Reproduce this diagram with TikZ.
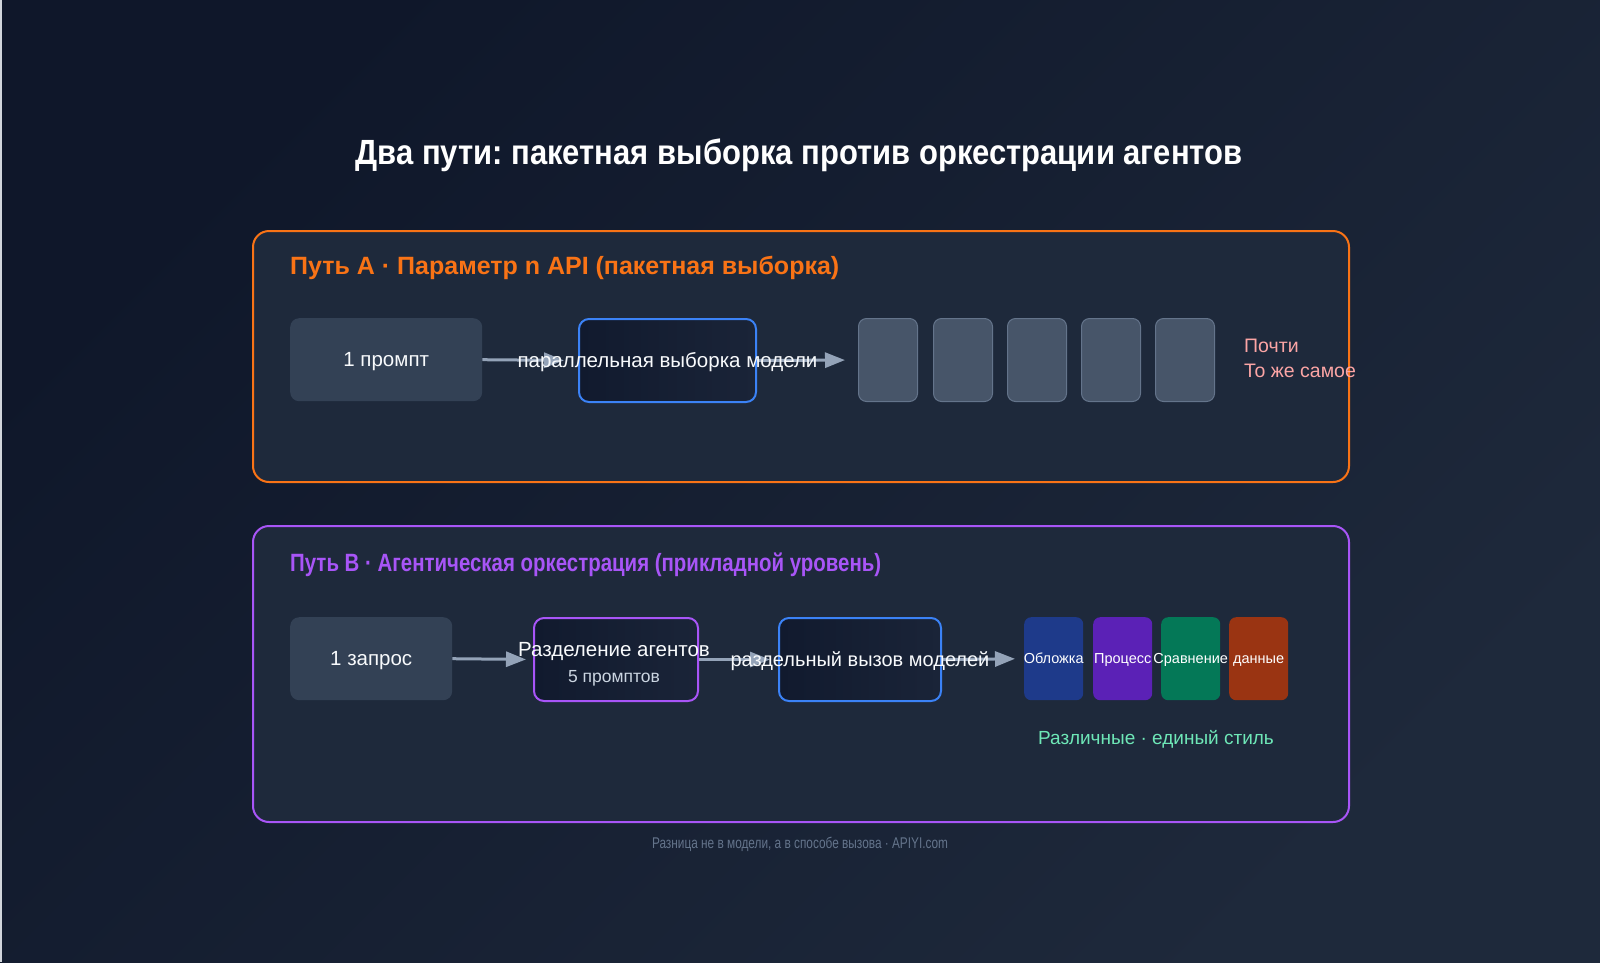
\documentclass[tikz,border=0pt]{standalone}
\usepackage{fontspec}
\setmainfont{Liberation Sans}
\usepackage{graphicx}
\usetikzlibrary{arrows.meta}
\frenchspacing
\definecolor{bgA}{HTML}{0F172A}
\definecolor{bgB}{HTML}{1E293B}
\definecolor{panelc}{HTML}{1E293B}
\definecolor{orng}{HTML}{F97316}
\definecolor{purp}{HTML}{A855F7}
\definecolor{blu}{HTML}{3B82F6}
\definecolor{slateS}{HTML}{334155}
\definecolor{slateX}{HTML}{475569}
\definecolor{slateF}{HTML}{64748B}
\definecolor{slateV}{HTML}{94A3B8}
\definecolor{slateT}{HTML}{CBD5E1}
\definecolor{txtw}{HTML}{F8FAFC}
\definecolor{pinkc}{HTML}{FCA5A5}
\definecolor{mintc}{HTML}{6EE7B7}
\definecolor{cdBlue}{HTML}{1E3A8A}
\definecolor{cdPurp}{HTML}{5B21B6}
\definecolor{cdGreen}{HTML}{047857}
\definecolor{cdRust}{HTML}{9A3412}
\definecolor{innerA}{HTML}{111A2E}
\definecolor{innerB}{HTML}{1A2438}
\definecolor{edgec}{HTML}{D1D5DB}
\newlength\fitlen
\newcommand\fitto[2]{\settowidth\fitlen{#2}\pgfmathsetmacro\fitr{#1/\fitlen}\scalebox{\fitr}[1]{#2}}
\tikzset{
  panelbox/.style={rectangle, rounded corners=16pt, fill=panelc, line width=2pt, inner sep=0pt, anchor=north west},
  graybox/.style={rectangle, rounded corners=9pt, fill=slateS, inner sep=0pt, anchor=north west, minimum height=83pt},
  darkbox/.style={rectangle, rounded corners=10pt, left color=innerA, right color=innerB, line width=2pt, inner sep=0pt, anchor=north west, minimum height=83pt},
  outcard/.style={rectangle, rounded corners=8pt, fill=slateX, draw=slateF, line width=1pt, inner sep=0pt, anchor=north west, minimum width=59pt, minimum height=83pt},
  colcard/.style={rectangle, rounded corners=7pt, fill=#1, inner sep=0pt, anchor=north west, minimum width=59pt, minimum height=83pt},
  lbl/.style={anchor=base, text=txtw, inner sep=0pt, font=\fontsize{20.5}{24}\selectfont},
  cardlbl/.style={anchor=base, text=white, inner sep=0pt, font=\fontsize{14.5}{17}\selectfont},
  flow/.style={draw=slateV, line width=3pt, -{Triangle[length=20pt,width=15pt]}},
}
\begin{document}
\begin{tikzpicture}[x=1pt,y=-1pt]
\useasboundingbox (0,0) rectangle (1600,962);
\shade[top color=bgA, bottom color=bgB, shading angle=45] (0,0) rectangle (1600,962);
\fill[edgec] (0,0) rectangle (1.5,962);

% title
\node[anchor=base, text=white, inner sep=0pt, font=\bfseries\fontsize{35}{40}\selectfont] (title) at (799,164) {\fitto{887}{Два пути: пакетная выборка против оркестрации агентов}};

% panel A
\node[panelbox, draw=orng, minimum width=1096pt, minimum height=251pt] (pa) at (252,230) {};
\node[anchor=base west, text=orng, inner sep=0pt, font=\bfseries\fontsize{25}{30}\selectfont] (ta) at (290,274) {Путь A · Параметр n API (пакетная выборка)};

\node[graybox, minimum width=192pt] (a1) at (290,318) {};
\node[darkbox, draw=blu, minimum width=177pt] (a2) at (578,318) {};
\foreach \i/\x in {1/858,2/933,3/1007,4/1081,5/1155}{
  \node[outcard] (c\i) at (\x,318) {};
}
\draw[flow, shorten >=14pt] (a1.east) -- (a2.west);
\draw[flow, shorten >=13pt] (a2.east) -- (c1.west);
\node[lbl] (a1t) at ([yshift=-7pt]a1.center) {1 промпт};
\node[lbl] (a2t) at ([yshift=-7pt]a2.center) {параллельная выборка модели};
\node[anchor=base west, text=pinkc, inner sep=0pt, font=\fontsize{19.5}{23}\selectfont] (pa1) at (1244,352) {Почти};
\node[anchor=base west, text=pinkc, inner sep=0pt, font=\fontsize{19.5}{23}\selectfont] (pa2) at (1244,377) {То же самое};

% panel B
\node[panelbox, draw=purp, minimum width=1096pt, minimum height=296pt] (pb) at (252,525) {};
\node[anchor=base west, text=purp, inner sep=0pt, font=\bfseries\fontsize{25}{30}\selectfont] (tb) at (290,571) {\fitto{591}{Путь B · Агентическая оркестрация (прикладной уровень)}};

\node[graybox, minimum width=162pt] (b1) at (290,617) {};
\node[darkbox, draw=purp, minimum width=164pt] (b2) at (533,617) {};
\node[darkbox, draw=blu, minimum width=162pt] (b3) at (778,617) {};
\node[colcard=cdBlue] (d1) at (1024,617) {};
\node[colcard=cdPurp] (d2) at (1093,617) {};
\node[colcard=cdGreen] (d3) at (1161,617) {};
\node[colcard=cdRust] (d4) at (1229,617) {};
\draw[flow, shorten >=7pt] (b1.east) -- (b2.west);
\draw[flow, shorten >=8pt] (b2.east) -- (b3.west);
\draw[flow, shorten >=9pt] (b3.east) -- (d1.west);
\node[lbl] (b1t) at ([yshift=-7pt]b1.center) {1 запрос};
\node[lbl] (b2t) at (614,656) {Разделение агентов};
\node[lbl, text=slateT, font=\fontsize{17.5}{21}\selectfont] (b2s) at (614,682) {5 промптов};
\node[lbl, font=\fontsize{20}{24}\selectfont] (b3t) at ([yshift=-7pt]b3.center) {раздельный вызов моделей};
\node[cardlbl] (d1t) at ([yshift=-5pt]d1.center) {Обложка};
\node[cardlbl] (d2t) at ([yshift=-5pt]d2.center) {Процесс};
\node[cardlbl] (d3t) at ([yshift=-5pt]d3.center) {Сравнение};
\node[cardlbl] (d4t) at ([yshift=-5pt]d4.center) {данные};
\node[anchor=base, text=mintc, inner sep=0pt, font=\fontsize{19}{23}\selectfont] (gr) at (1156,744) {Различные · единый стиль};

% footer
\node[anchor=base, text=slateF, inner sep=0pt, font=\fontsize{15.5}{18}\selectfont] (ft) at (800,848) {\fitto{296}{Разница не в модели, а в способе вызова · APIYI.com}};
\end{tikzpicture}
\end{document}
